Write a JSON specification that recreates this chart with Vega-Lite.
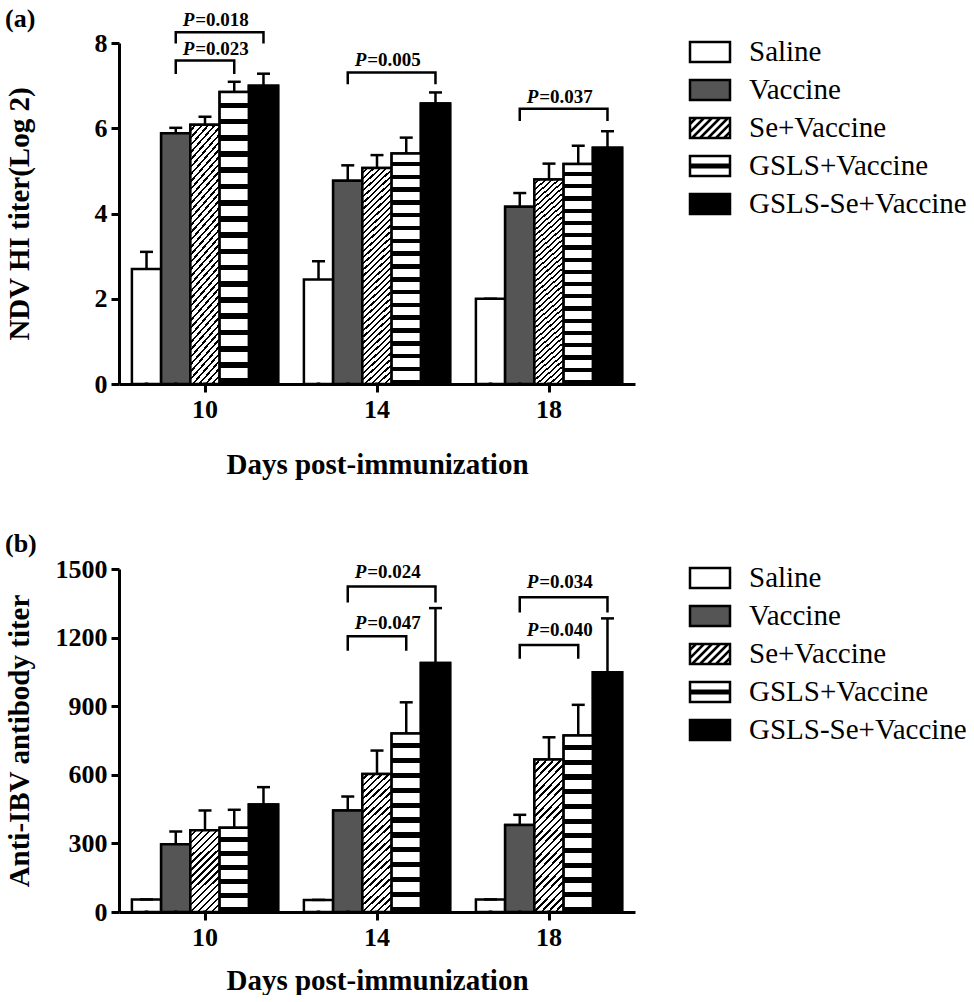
{
"$schema": "https://vega.github.io/schema/vega-lite/v6.json",
"background": "white",
"padding": {"left": 4, "top": 6, "right": 0, "bottom": 0},
"config": {
  "view": {"stroke": null},
  "font": "Liberation Serif",
  "axis": {"labelFont": "Liberation Serif", "labelFontWeight": "bold", "labelFontSize": 26, "labelColor": "black", "titleFont": "Liberation Serif", "titleFontWeight": "bold", "titleFontSize": 29, "titleColor": "black", "domainColor": "black", "domainWidth": 3, "tickColor": "black", "tickWidth": 3, "tickSize": 8, "grid": false},
  "title": {"font": "Liberation Serif", "fontWeight": "bold", "fontSize": 26, "color": "black", "anchor": "start", "frame": "bounds"},
  "legend": {"orient": "none", "title": null, "padding": 0, "rowPadding": 4, "symbolSize": 1260, "symbolStrokeWidth": 2.5, "symbolStrokeColor": "black", "symbolOpacity": 1, "labelFont": "Liberation Serif", "labelFontSize": 29, "labelColor": "black", "labelOffset": 20, "labelLimit": 400}
},
"datasets": {
  "a": [
    {"day": "10", "group": "Saline", "value": 2.7, "upper": 3.1},
    {"day": "10", "group": "Vaccine", "value": 5.88, "upper": 6.01},
    {"day": "10", "group": "Se+Vaccine", "value": 6.08, "upper": 6.27},
    {"day": "10", "group": "GSLS+Vaccine", "value": 6.85, "upper": 7.09},
    {"day": "10", "group": "GSLS-Se+Vaccine", "value": 7.0, "upper": 7.28},
    {"day": "14", "group": "Saline", "value": 2.45, "upper": 2.88},
    {"day": "14", "group": "Vaccine", "value": 4.77, "upper": 5.13},
    {"day": "14", "group": "Se+Vaccine", "value": 5.07, "upper": 5.37},
    {"day": "14", "group": "GSLS+Vaccine", "value": 5.41, "upper": 5.78},
    {"day": "14", "group": "GSLS-Se+Vaccine", "value": 6.58, "upper": 6.84},
    {"day": "18", "group": "Saline", "value": 2.0, "upper": 2.0},
    {"day": "18", "group": "Vaccine", "value": 4.16, "upper": 4.48},
    {"day": "18", "group": "Se+Vaccine", "value": 4.8, "upper": 5.17},
    {"day": "18", "group": "GSLS+Vaccine", "value": 5.16, "upper": 5.59},
    {"day": "18", "group": "GSLS-Se+Vaccine", "value": 5.54, "upper": 5.93}
  ],
  "b": [
    {"day": "10", "group": "Saline", "value": 55, "upper": 55},
    {"day": "10", "group": "Vaccine", "value": 296, "upper": 352},
    {"day": "10", "group": "Se+Vaccine", "value": 357, "upper": 444},
    {"day": "10", "group": "GSLS+Vaccine", "value": 368, "upper": 447},
    {"day": "10", "group": "GSLS-Se+Vaccine", "value": 470, "upper": 546},
    {"day": "14", "group": "Saline", "value": 53, "upper": 53},
    {"day": "14", "group": "Vaccine", "value": 444, "upper": 505},
    {"day": "14", "group": "Se+Vaccine", "value": 604, "upper": 706},
    {"day": "14", "group": "GSLS+Vaccine", "value": 781, "upper": 917},
    {"day": "14", "group": "GSLS-Se+Vaccine", "value": 1089, "upper": 1329},
    {"day": "18", "group": "Saline", "value": 55, "upper": 55},
    {"day": "18", "group": "Vaccine", "value": 381, "upper": 425},
    {"day": "18", "group": "Se+Vaccine", "value": 667, "upper": 764},
    {"day": "18", "group": "GSLS+Vaccine", "value": 772, "upper": 906},
    {"day": "18", "group": "GSLS-Se+Vaccine", "value": 1048, "upper": 1284}
  ],
  "ba": [
    {"id": "A1", "day": "10", "group": "Vaccine", "y": 7.99, "ord": 1},
    {"id": "A1", "day": "10", "group": "Vaccine", "y": 8.25, "ord": 2},
    {"id": "A1", "day": "10", "group": "GSLS-Se+Vaccine", "y": 8.25, "ord": 3},
    {"id": "A1", "day": "10", "group": "GSLS-Se+Vaccine", "y": 7.99, "ord": 4},
    {"id": "A2", "day": "10", "group": "Vaccine", "y": 7.27, "ord": 1},
    {"id": "A2", "day": "10", "group": "Vaccine", "y": 7.59, "ord": 2},
    {"id": "A2", "day": "10", "group": "GSLS+Vaccine", "y": 7.59, "ord": 3},
    {"id": "A2", "day": "10", "group": "GSLS+Vaccine", "y": 7.27, "ord": 4},
    {"id": "A3", "day": "14", "group": "Vaccine", "y": 7.03, "ord": 1},
    {"id": "A3", "day": "14", "group": "Vaccine", "y": 7.31, "ord": 2},
    {"id": "A3", "day": "14", "group": "GSLS-Se+Vaccine", "y": 7.31, "ord": 3},
    {"id": "A3", "day": "14", "group": "GSLS-Se+Vaccine", "y": 7.03, "ord": 4},
    {"id": "A4", "day": "18", "group": "Vaccine", "y": 6.17, "ord": 1},
    {"id": "A4", "day": "18", "group": "Vaccine", "y": 6.46, "ord": 2},
    {"id": "A4", "day": "18", "group": "GSLS-Se+Vaccine", "y": 6.46, "ord": 3},
    {"id": "A4", "day": "18", "group": "GSLS-Se+Vaccine", "y": 6.17, "ord": 4}
  ],
  "ta": [
    {"day": "10", "group": "Vaccine", "y": 8.39, "label": "=0.018"},
    {"day": "10", "group": "Vaccine", "y": 7.71, "label": "=0.023"},
    {"day": "14", "group": "Vaccine", "y": 7.45, "label": "=0.005"},
    {"day": "18", "group": "Vaccine", "y": 6.6, "label": "=0.037"}
  ],
  "bb": [
    {"id": "B1", "day": "14", "group": "Vaccine", "y": 1354, "ord": 1},
    {"id": "B1", "day": "14", "group": "Vaccine", "y": 1423, "ord": 2},
    {"id": "B1", "day": "14", "group": "GSLS-Se+Vaccine", "y": 1423, "ord": 3},
    {"id": "B1", "day": "14", "group": "GSLS-Se+Vaccine", "y": 1354, "ord": 4},
    {"id": "B2", "day": "14", "group": "Vaccine", "y": 1143, "ord": 1},
    {"id": "B2", "day": "14", "group": "Vaccine", "y": 1206, "ord": 2},
    {"id": "B2", "day": "14", "group": "GSLS+Vaccine", "y": 1206, "ord": 3},
    {"id": "B2", "day": "14", "group": "GSLS+Vaccine", "y": 1143, "ord": 4},
    {"id": "B3", "day": "18", "group": "Vaccine", "y": 1310, "ord": 1},
    {"id": "B3", "day": "18", "group": "Vaccine", "y": 1376, "ord": 2},
    {"id": "B3", "day": "18", "group": "GSLS-Se+Vaccine", "y": 1376, "ord": 3},
    {"id": "B3", "day": "18", "group": "GSLS-Se+Vaccine", "y": 1310, "ord": 4},
    {"id": "B4", "day": "18", "group": "Vaccine", "y": 1107, "ord": 1},
    {"id": "B4", "day": "18", "group": "Vaccine", "y": 1168, "ord": 2},
    {"id": "B4", "day": "18", "group": "GSLS+Vaccine", "y": 1168, "ord": 3},
    {"id": "B4", "day": "18", "group": "GSLS+Vaccine", "y": 1107, "ord": 4}
  ],
  "tb": [
    {"day": "14", "group": "Vaccine", "y": 1459, "label": "=0.024"},
    {"day": "14", "group": "Vaccine", "y": 1236, "label": "=0.047"},
    {"day": "18", "group": "Vaccine", "y": 1417, "label": "=0.034"},
    {"day": "18", "group": "Vaccine", "y": 1206, "label": "=0.040"}
  ]
},
"resolve": {"scale": {"shape": "independent", "fill": "independent", "stroke": "independent"}, "legend": {"fill": "independent", "shape": "independent", "stroke": "independent"}},
"spacing": 52,
"vconcat": [
{
  "width": 516, "height": 341,
  "title": {"text": "(a)", "offset": -21},
  "layer": [
    {"data": {"name": "a"}, "mark": {"type": "bar", "stroke": "black", "strokeWidth": 2.5, "fill": "#ffffff"},
     "encoding": {
       "x": {"field": "day", "type": "nominal", "scale": {"domain": ["10", "14", "18"], "paddingInner": 0.15, "paddingOuter": 0.075}, "axis": {"title": "Days post-immunization", "labelAngle": 0, "labelPadding": 4, "titleY": 89, "titleBaseline": "alphabetic"}},
       "xOffset": {"field": "group", "type": "nominal", "scale": {"domain": ["Saline", "Vaccine", "Se+Vaccine", "GSLS+Vaccine", "GSLS-Se+Vaccine"], "paddingInner": 0, "paddingOuter": 0}},
       "y": {"field": "value", "type": "quantitative", "scale": {"domain": [0, 8], "nice": false}, "axis": {"title": "NDV HI titer(Log 2)", "values": [0, 2, 4, 6, 8], "labelPadding": 4, "titleX": -91, "titleBaseline": "alphabetic"}}
     }},
    {"data": {"name": "a"}, "transform": [{"filter": "datum.group === 'Vaccine'"}],
     "mark": {"type": "bar", "stroke": "black", "strokeWidth": 2.5, "fill": "#555555"},
     "encoding": {"x": {"field": "day", "type": "nominal"}, "xOffset": {"field": "group", "type": "nominal"}, "y": {"field": "value", "type": "quantitative"}}},
    {"data": {"name": "a"}, "transform": [{"filter": "datum.group === 'GSLS-Se+Vaccine'"}],
     "mark": {"type": "bar", "stroke": "black", "strokeWidth": 2.5, "fill": "#000000"},
     "encoding": {"x": {"field": "day", "type": "nominal"}, "xOffset": {"field": "group", "type": "nominal"}, "y": {"field": "value", "type": "quantitative"}}},
    {"data": {"name": "a"}, "transform": [{"filter": "datum.group === 'Se+Vaccine'"}],
     "mark": {"type": "bar", "stroke": "black", "strokeWidth": 2.5, "fill": {"gradient": "linear", "x1": 0, "y1": 0, "x2": 0.1418, "y2": 1.1097, "stops": [
{"offset":0,"color":"#fff"},{"offset":0.01625,"color":"#fff"},{"offset":0.01625,"color":"#000"},{"offset":0.025,"color":"#000"},
{"offset":0.025,"color":"#fff"},{"offset":0.04125,"color":"#fff"},{"offset":0.04125,"color":"#000"},{"offset":0.05,"color":"#000"},
{"offset":0.05,"color":"#fff"},{"offset":0.06625,"color":"#fff"},{"offset":0.06625,"color":"#000"},{"offset":0.075,"color":"#000"},
{"offset":0.075,"color":"#fff"},{"offset":0.09125,"color":"#fff"},{"offset":0.09125,"color":"#000"},{"offset":0.1,"color":"#000"},
{"offset":0.1,"color":"#fff"},{"offset":0.11625,"color":"#fff"},{"offset":0.11625,"color":"#000"},{"offset":0.125,"color":"#000"},
{"offset":0.125,"color":"#fff"},{"offset":0.14125,"color":"#fff"},{"offset":0.14125,"color":"#000"},{"offset":0.15,"color":"#000"},
{"offset":0.15,"color":"#fff"},{"offset":0.16625,"color":"#fff"},{"offset":0.16625,"color":"#000"},{"offset":0.175,"color":"#000"},
{"offset":0.175,"color":"#fff"},{"offset":0.19125,"color":"#fff"},{"offset":0.19125,"color":"#000"},{"offset":0.2,"color":"#000"},
{"offset":0.2,"color":"#fff"},{"offset":0.21625,"color":"#fff"},{"offset":0.21625,"color":"#000"},{"offset":0.225,"color":"#000"},
{"offset":0.225,"color":"#fff"},{"offset":0.24125,"color":"#fff"},{"offset":0.24125,"color":"#000"},{"offset":0.25,"color":"#000"},
{"offset":0.25,"color":"#fff"},{"offset":0.26625,"color":"#fff"},{"offset":0.26625,"color":"#000"},{"offset":0.275,"color":"#000"},
{"offset":0.275,"color":"#fff"},{"offset":0.29125,"color":"#fff"},{"offset":0.29125,"color":"#000"},{"offset":0.3,"color":"#000"},
{"offset":0.3,"color":"#fff"},{"offset":0.31625,"color":"#fff"},{"offset":0.31625,"color":"#000"},{"offset":0.325,"color":"#000"},
{"offset":0.325,"color":"#fff"},{"offset":0.34125,"color":"#fff"},{"offset":0.34125,"color":"#000"},{"offset":0.35,"color":"#000"},
{"offset":0.35,"color":"#fff"},{"offset":0.36625,"color":"#fff"},{"offset":0.36625,"color":"#000"},{"offset":0.375,"color":"#000"},
{"offset":0.375,"color":"#fff"},{"offset":0.39125,"color":"#fff"},{"offset":0.39125,"color":"#000"},{"offset":0.4,"color":"#000"},
{"offset":0.4,"color":"#fff"},{"offset":0.41625,"color":"#fff"},{"offset":0.41625,"color":"#000"},{"offset":0.425,"color":"#000"},
{"offset":0.425,"color":"#fff"},{"offset":0.44125,"color":"#fff"},{"offset":0.44125,"color":"#000"},{"offset":0.45,"color":"#000"},
{"offset":0.45,"color":"#fff"},{"offset":0.46625,"color":"#fff"},{"offset":0.46625,"color":"#000"},{"offset":0.475,"color":"#000"},
{"offset":0.475,"color":"#fff"},{"offset":0.49125,"color":"#fff"},{"offset":0.49125,"color":"#000"},{"offset":0.5,"color":"#000"},
{"offset":0.5,"color":"#fff"},{"offset":0.51625,"color":"#fff"},{"offset":0.51625,"color":"#000"},{"offset":0.525,"color":"#000"},
{"offset":0.525,"color":"#fff"},{"offset":0.54125,"color":"#fff"},{"offset":0.54125,"color":"#000"},{"offset":0.55,"color":"#000"},
{"offset":0.55,"color":"#fff"},{"offset":0.56625,"color":"#fff"},{"offset":0.56625,"color":"#000"},{"offset":0.575,"color":"#000"},
{"offset":0.575,"color":"#fff"},{"offset":0.59125,"color":"#fff"},{"offset":0.59125,"color":"#000"},{"offset":0.6,"color":"#000"},
{"offset":0.6,"color":"#fff"},{"offset":0.61625,"color":"#fff"},{"offset":0.61625,"color":"#000"},{"offset":0.625,"color":"#000"},
{"offset":0.625,"color":"#fff"},{"offset":0.64125,"color":"#fff"},{"offset":0.64125,"color":"#000"},{"offset":0.65,"color":"#000"},
{"offset":0.65,"color":"#fff"},{"offset":0.66625,"color":"#fff"},{"offset":0.66625,"color":"#000"},{"offset":0.675,"color":"#000"},
{"offset":0.675,"color":"#fff"},{"offset":0.69125,"color":"#fff"},{"offset":0.69125,"color":"#000"},{"offset":0.7,"color":"#000"},
{"offset":0.7,"color":"#fff"},{"offset":0.71625,"color":"#fff"},{"offset":0.71625,"color":"#000"},{"offset":0.725,"color":"#000"},
{"offset":0.725,"color":"#fff"},{"offset":0.74125,"color":"#fff"},{"offset":0.74125,"color":"#000"},{"offset":0.75,"color":"#000"},
{"offset":0.75,"color":"#fff"},{"offset":0.76625,"color":"#fff"},{"offset":0.76625,"color":"#000"},{"offset":0.775,"color":"#000"},
{"offset":0.775,"color":"#fff"},{"offset":0.79125,"color":"#fff"},{"offset":0.79125,"color":"#000"},{"offset":0.8,"color":"#000"},
{"offset":0.8,"color":"#fff"},{"offset":0.81625,"color":"#fff"},{"offset":0.81625,"color":"#000"},{"offset":0.825,"color":"#000"},
{"offset":0.825,"color":"#fff"},{"offset":0.84125,"color":"#fff"},{"offset":0.84125,"color":"#000"},{"offset":0.85,"color":"#000"},
{"offset":0.85,"color":"#fff"},{"offset":0.86625,"color":"#fff"},{"offset":0.86625,"color":"#000"},{"offset":0.875,"color":"#000"},
{"offset":0.875,"color":"#fff"},{"offset":0.89125,"color":"#fff"},{"offset":0.89125,"color":"#000"},{"offset":0.9,"color":"#000"},
{"offset":0.9,"color":"#fff"},{"offset":0.91625,"color":"#fff"},{"offset":0.91625,"color":"#000"},{"offset":0.925,"color":"#000"},
{"offset":0.925,"color":"#fff"},{"offset":0.94125,"color":"#fff"},{"offset":0.94125,"color":"#000"},{"offset":0.95,"color":"#000"},
{"offset":0.95,"color":"#fff"},{"offset":0.96625,"color":"#fff"},{"offset":0.96625,"color":"#000"},{"offset":0.975,"color":"#000"},
{"offset":0.975,"color":"#fff"},{"offset":0.99125,"color":"#fff"},{"offset":0.99125,"color":"#000"},{"offset":1,"color":"#000"}
     ]}},
     "encoding": {"x": {"field": "day", "type": "nominal"}, "xOffset": {"field": "group", "type": "nominal"}, "y": {"field": "value", "type": "quantitative"}}},
    {"data": {"name": "a"}, "transform": [{"filter": "datum.group === 'GSLS+Vaccine'"}],
     "mark": {"type": "bar", "stroke": "black", "strokeWidth": 2.5, "fill": {"gradient": "linear", "x1": 0, "y1": 0, "x2": 0, "y2": 1, "stops": [
{"offset":0,"color":"#fff"},{"offset":0.0361,"color":"#fff"},{"offset":0.0361,"color":"#000"},{"offset":0.0556,"color":"#000"},
{"offset":0.0556,"color":"#fff"},{"offset":0.0917,"color":"#fff"},{"offset":0.0917,"color":"#000"},{"offset":0.1111,"color":"#000"},
{"offset":0.1111,"color":"#fff"},{"offset":0.1472,"color":"#fff"},{"offset":0.1472,"color":"#000"},{"offset":0.1667,"color":"#000"},
{"offset":0.1667,"color":"#fff"},{"offset":0.2028,"color":"#fff"},{"offset":0.2028,"color":"#000"},{"offset":0.2222,"color":"#000"},
{"offset":0.2222,"color":"#fff"},{"offset":0.2583,"color":"#fff"},{"offset":0.2583,"color":"#000"},{"offset":0.2778,"color":"#000"},
{"offset":0.2778,"color":"#fff"},{"offset":0.3139,"color":"#fff"},{"offset":0.3139,"color":"#000"},{"offset":0.3333,"color":"#000"},
{"offset":0.3333,"color":"#fff"},{"offset":0.3694,"color":"#fff"},{"offset":0.3694,"color":"#000"},{"offset":0.3889,"color":"#000"},
{"offset":0.3889,"color":"#fff"},{"offset":0.425,"color":"#fff"},{"offset":0.425,"color":"#000"},{"offset":0.4444,"color":"#000"},
{"offset":0.4444,"color":"#fff"},{"offset":0.4806,"color":"#fff"},{"offset":0.4806,"color":"#000"},{"offset":0.5,"color":"#000"},
{"offset":0.5,"color":"#fff"},{"offset":0.5361,"color":"#fff"},{"offset":0.5361,"color":"#000"},{"offset":0.5556,"color":"#000"},
{"offset":0.5556,"color":"#fff"},{"offset":0.5917,"color":"#fff"},{"offset":0.5917,"color":"#000"},{"offset":0.6111,"color":"#000"},
{"offset":0.6111,"color":"#fff"},{"offset":0.6472,"color":"#fff"},{"offset":0.6472,"color":"#000"},{"offset":0.6667,"color":"#000"},
{"offset":0.6667,"color":"#fff"},{"offset":0.7028,"color":"#fff"},{"offset":0.7028,"color":"#000"},{"offset":0.7222,"color":"#000"},
{"offset":0.7222,"color":"#fff"},{"offset":0.7583,"color":"#fff"},{"offset":0.7583,"color":"#000"},{"offset":0.7778,"color":"#000"},
{"offset":0.7778,"color":"#fff"},{"offset":0.8139,"color":"#fff"},{"offset":0.8139,"color":"#000"},{"offset":0.8333,"color":"#000"},
{"offset":0.8333,"color":"#fff"},{"offset":0.8694,"color":"#fff"},{"offset":0.8694,"color":"#000"},{"offset":0.8889,"color":"#000"},
{"offset":0.8889,"color":"#fff"},{"offset":0.925,"color":"#fff"},{"offset":0.925,"color":"#000"},{"offset":0.9444,"color":"#000"},
{"offset":0.9444,"color":"#fff"},{"offset":0.9806,"color":"#fff"},{"offset":0.9806,"color":"#000"},{"offset":1,"color":"#000"}
     ]}},
     "encoding": {"x": {"field": "day", "type": "nominal"}, "xOffset": {"field": "group", "type": "nominal"}, "y": {"field": "value", "type": "quantitative"}}},
    {"data": {"name": "a"}, "mark": {"type": "rule", "strokeWidth": 2.5, "color": "black"},
     "encoding": {"x": {"field": "day", "type": "nominal"}, "xOffset": {"field": "group", "type": "nominal"}, "y": {"field": "value", "type": "quantitative"}, "y2": {"field": "upper"}}},
    {"data": {"name": "a"}, "mark": {"type": "tick", "thickness": 2.5, "size": 13, "color": "black", "orient": "horizontal", "opacity": 1},
     "encoding": {"x": {"field": "day", "type": "nominal"}, "xOffset": {"field": "group", "type": "nominal"}, "y": {"field": "upper", "type": "quantitative"}}},
    {"data": {"name": "ba"}, "mark": {"type": "line", "strokeWidth": 2.5, "color": "black"},
     "encoding": {"x": {"field": "day", "type": "nominal"}, "xOffset": {"field": "group", "type": "nominal"}, "y": {"field": "y", "type": "quantitative"}, "detail": {"field": "id"}, "order": {"field": "ord"}}},
    {"data": {"name": "ta"}, "mark": {"type": "text", "align": "left", "baseline": "alphabetic", "dx": 7, "fontSize": 19, "fontWeight": "bold", "fontStyle": "italic", "color": "black"},
     "encoding": {"x": {"field": "day", "type": "nominal"}, "xOffset": {"field": "group", "type": "nominal"}, "y": {"field": "y", "type": "quantitative"}, "text": {"value": "P"}}},
    {"data": {"name": "ta"}, "mark": {"type": "text", "align": "left", "baseline": "alphabetic", "dx": 19.5, "fontSize": 19, "fontWeight": "bold", "color": "black"},
     "encoding": {"x": {"field": "day", "type": "nominal"}, "xOffset": {"field": "group", "type": "nominal"}, "y": {"field": "y", "type": "quantitative"}, "text": {"field": "label"}}},
    {"data": {"name": "a"}, "mark": {"type": "point", "filled": true, "size": 1, "opacity": 1, "strokeWidth": 2.5},
     "encoding": {
       "x": {"field": "day", "type": "nominal"},
       "xOffset": {"field": "group", "type": "nominal"},
       "y": {"datum": 0, "type": "quantitative"},
       "fill": {"field": "group", "type": "nominal", "scale": {"domain": ["Saline", "Vaccine", "Se+Vaccine", "GSLS+Vaccine", "GSLS-Se+Vaccine"], "range": ["#ffffff", "#555555", "#ffffff", "#ffffff", "#000000"]}, "legend": {"orient": "none", "legendX": 572, "legendY": -10}},
       "stroke": {"field": "group", "type": "nominal", "scale": {"domain": ["Saline", "Vaccine", "Se+Vaccine", "GSLS+Vaccine", "GSLS-Se+Vaccine"], "range": ["#000000", "#000000", "#000000", "#000000", "#000000"]}, "legend": {"orient": "none", "legendX": 572, "legendY": -10}},
       "shape": {"field": "group", "type": "nominal", "scale": {"domain": ["Saline", "Vaccine", "Se+Vaccine", "GSLS+Vaccine", "GSLS-Se+Vaccine"], "range": [
         "M-1.127,-0.563H1.127V0.563H-1.127Z",
         "M-1.127,-0.563H1.127V0.563H-1.127Z",
         "M-1.127,-0.563H1.127V0.563H-1.127ZM-1.127,-0.223L-0.787,-0.563M-1.127,0.227L-0.337,-0.563M-1.013,0.563L0.113,-0.563M-0.563,0.563L0.563,-0.563M-0.113,0.563L1.013,-0.563M0.337,0.563L1.127,-0.227M0.787,0.563L1.127,0.223",
         "M-1.127,-0.563H1.127V0.563H-1.127ZM-1.127,-0.07H1.127M-1.127,0.07H1.127",
         "M-1.127,-0.563H1.127V0.563H-1.127Z"]}, "legend": {"orient": "none", "legendX": 572, "legendY": -10}}
     }}
  ]
},
{
  "width": 516, "height": 343,
  "title": {"text": "(b)", "offset": -1},
  "layer": [
    {"data": {"name": "b"}, "mark": {"type": "bar", "stroke": "black", "strokeWidth": 2.5, "fill": "#ffffff"},
     "encoding": {
       "x": {"field": "day", "type": "nominal", "scale": {"domain": ["10", "14", "18"], "paddingInner": 0.15, "paddingOuter": 0.075}, "axis": {"title": "Days post-immunization", "labelAngle": 0, "labelPadding": 4, "titleY": 77, "titleBaseline": "alphabetic"}},
       "xOffset": {"field": "group", "type": "nominal", "scale": {"domain": ["Saline", "Vaccine", "Se+Vaccine", "GSLS+Vaccine", "GSLS-Se+Vaccine"], "paddingInner": 0, "paddingOuter": 0}},
       "y": {"field": "value", "type": "quantitative", "scale": {"domain": [0, 1500], "nice": false}, "axis": {"title": "Anti-IBV antibody titer", "values": [0, 300, 600, 900, 1200, 1500], "format": "d", "labelPadding": 4, "titleX": -91, "titleBaseline": "alphabetic"}}
     }},
    {"data": {"name": "b"}, "transform": [{"filter": "datum.group === 'Vaccine'"}],
     "mark": {"type": "bar", "stroke": "black", "strokeWidth": 2.5, "fill": "#555555"},
     "encoding": {"x": {"field": "day", "type": "nominal"}, "xOffset": {"field": "group", "type": "nominal"}, "y": {"field": "value", "type": "quantitative"}}},
    {"data": {"name": "b"}, "transform": [{"filter": "datum.group === 'GSLS-Se+Vaccine'"}],
     "mark": {"type": "bar", "stroke": "black", "strokeWidth": 2.5, "fill": "#000000"},
     "encoding": {"x": {"field": "day", "type": "nominal"}, "xOffset": {"field": "group", "type": "nominal"}, "y": {"field": "value", "type": "quantitative"}}},
    {"data": {"name": "b"}, "transform": [{"filter": "datum.group === 'Se+Vaccine' && datum.day !== '10'"}],
     "mark": {"type": "bar", "stroke": "black", "strokeWidth": 2.5, "fill": {"gradient": "linear", "x1": 0, "y1": 0, "x2": 0.2308, "y2": 1.1538, "stops": [
{"offset":0,"color":"#fff"},{"offset":0.026,"color":"#fff"},{"offset":0.026,"color":"#000"},{"offset":0.04,"color":"#000"},
{"offset":0.04,"color":"#fff"},{"offset":0.066,"color":"#fff"},{"offset":0.066,"color":"#000"},{"offset":0.08,"color":"#000"},
{"offset":0.08,"color":"#fff"},{"offset":0.106,"color":"#fff"},{"offset":0.106,"color":"#000"},{"offset":0.12,"color":"#000"},
{"offset":0.12,"color":"#fff"},{"offset":0.146,"color":"#fff"},{"offset":0.146,"color":"#000"},{"offset":0.16,"color":"#000"},
{"offset":0.16,"color":"#fff"},{"offset":0.186,"color":"#fff"},{"offset":0.186,"color":"#000"},{"offset":0.2,"color":"#000"},
{"offset":0.2,"color":"#fff"},{"offset":0.226,"color":"#fff"},{"offset":0.226,"color":"#000"},{"offset":0.24,"color":"#000"},
{"offset":0.24,"color":"#fff"},{"offset":0.266,"color":"#fff"},{"offset":0.266,"color":"#000"},{"offset":0.28,"color":"#000"},
{"offset":0.28,"color":"#fff"},{"offset":0.306,"color":"#fff"},{"offset":0.306,"color":"#000"},{"offset":0.32,"color":"#000"},
{"offset":0.32,"color":"#fff"},{"offset":0.346,"color":"#fff"},{"offset":0.346,"color":"#000"},{"offset":0.36,"color":"#000"},
{"offset":0.36,"color":"#fff"},{"offset":0.386,"color":"#fff"},{"offset":0.386,"color":"#000"},{"offset":0.4,"color":"#000"},
{"offset":0.4,"color":"#fff"},{"offset":0.426,"color":"#fff"},{"offset":0.426,"color":"#000"},{"offset":0.44,"color":"#000"},
{"offset":0.44,"color":"#fff"},{"offset":0.466,"color":"#fff"},{"offset":0.466,"color":"#000"},{"offset":0.48,"color":"#000"},
{"offset":0.48,"color":"#fff"},{"offset":0.506,"color":"#fff"},{"offset":0.506,"color":"#000"},{"offset":0.52,"color":"#000"},
{"offset":0.52,"color":"#fff"},{"offset":0.546,"color":"#fff"},{"offset":0.546,"color":"#000"},{"offset":0.56,"color":"#000"},
{"offset":0.56,"color":"#fff"},{"offset":0.586,"color":"#fff"},{"offset":0.586,"color":"#000"},{"offset":0.6,"color":"#000"},
{"offset":0.6,"color":"#fff"},{"offset":0.626,"color":"#fff"},{"offset":0.626,"color":"#000"},{"offset":0.64,"color":"#000"},
{"offset":0.64,"color":"#fff"},{"offset":0.666,"color":"#fff"},{"offset":0.666,"color":"#000"},{"offset":0.68,"color":"#000"},
{"offset":0.68,"color":"#fff"},{"offset":0.706,"color":"#fff"},{"offset":0.706,"color":"#000"},{"offset":0.72,"color":"#000"},
{"offset":0.72,"color":"#fff"},{"offset":0.746,"color":"#fff"},{"offset":0.746,"color":"#000"},{"offset":0.76,"color":"#000"},
{"offset":0.76,"color":"#fff"},{"offset":0.786,"color":"#fff"},{"offset":0.786,"color":"#000"},{"offset":0.8,"color":"#000"},
{"offset":0.8,"color":"#fff"},{"offset":0.826,"color":"#fff"},{"offset":0.826,"color":"#000"},{"offset":0.84,"color":"#000"},
{"offset":0.84,"color":"#fff"},{"offset":0.866,"color":"#fff"},{"offset":0.866,"color":"#000"},{"offset":0.88,"color":"#000"},
{"offset":0.88,"color":"#fff"},{"offset":0.906,"color":"#fff"},{"offset":0.906,"color":"#000"},{"offset":0.92,"color":"#000"},
{"offset":0.92,"color":"#fff"},{"offset":0.946,"color":"#fff"},{"offset":0.946,"color":"#000"},{"offset":0.96,"color":"#000"},
{"offset":0.96,"color":"#fff"},{"offset":0.986,"color":"#fff"},{"offset":0.986,"color":"#000"},{"offset":1,"color":"#000"}
     ]}},
     "encoding": {"x": {"field": "day", "type": "nominal"}, "xOffset": {"field": "group", "type": "nominal"}, "y": {"field": "value", "type": "quantitative"}}},
    {"data": {"name": "b"}, "transform": [{"filter": "datum.group === 'Se+Vaccine' && datum.day === '10'"}],
     "mark": {"type": "bar", "stroke": "black", "strokeWidth": 2.5, "fill": {"gradient": "linear", "x1": 0, "y1": 0, "x2": 0.4255, "y2": 1.2032, "stops": [
{"offset":0,"color":"#fff"},{"offset":0.0406,"color":"#fff"},{"offset":0.0406,"color":"#000"},{"offset":0.0625,"color":"#000"},
{"offset":0.0625,"color":"#fff"},{"offset":0.1031,"color":"#fff"},{"offset":0.1031,"color":"#000"},{"offset":0.125,"color":"#000"},
{"offset":0.125,"color":"#fff"},{"offset":0.1656,"color":"#fff"},{"offset":0.1656,"color":"#000"},{"offset":0.1875,"color":"#000"},
{"offset":0.1875,"color":"#fff"},{"offset":0.2281,"color":"#fff"},{"offset":0.2281,"color":"#000"},{"offset":0.25,"color":"#000"},
{"offset":0.25,"color":"#fff"},{"offset":0.2906,"color":"#fff"},{"offset":0.2906,"color":"#000"},{"offset":0.3125,"color":"#000"},
{"offset":0.3125,"color":"#fff"},{"offset":0.3531,"color":"#fff"},{"offset":0.3531,"color":"#000"},{"offset":0.375,"color":"#000"},
{"offset":0.375,"color":"#fff"},{"offset":0.4156,"color":"#fff"},{"offset":0.4156,"color":"#000"},{"offset":0.4375,"color":"#000"},
{"offset":0.4375,"color":"#fff"},{"offset":0.4781,"color":"#fff"},{"offset":0.4781,"color":"#000"},{"offset":0.5,"color":"#000"},
{"offset":0.5,"color":"#fff"},{"offset":0.5406,"color":"#fff"},{"offset":0.5406,"color":"#000"},{"offset":0.5625,"color":"#000"},
{"offset":0.5625,"color":"#fff"},{"offset":0.6031,"color":"#fff"},{"offset":0.6031,"color":"#000"},{"offset":0.625,"color":"#000"},
{"offset":0.625,"color":"#fff"},{"offset":0.6656,"color":"#fff"},{"offset":0.6656,"color":"#000"},{"offset":0.6875,"color":"#000"},
{"offset":0.6875,"color":"#fff"},{"offset":0.7281,"color":"#fff"},{"offset":0.7281,"color":"#000"},{"offset":0.75,"color":"#000"},
{"offset":0.75,"color":"#fff"},{"offset":0.7906,"color":"#fff"},{"offset":0.7906,"color":"#000"},{"offset":0.8125,"color":"#000"},
{"offset":0.8125,"color":"#fff"},{"offset":0.8531,"color":"#fff"},{"offset":0.8531,"color":"#000"},{"offset":0.875,"color":"#000"},
{"offset":0.875,"color":"#fff"},{"offset":0.9156,"color":"#fff"},{"offset":0.9156,"color":"#000"},{"offset":0.9375,"color":"#000"},
{"offset":0.9375,"color":"#fff"},{"offset":0.9781,"color":"#fff"},{"offset":0.9781,"color":"#000"},{"offset":1,"color":"#000"}
     ]}},
     "encoding": {"x": {"field": "day", "type": "nominal"}, "xOffset": {"field": "group", "type": "nominal"}, "y": {"field": "value", "type": "quantitative"}}},
    {"data": {"name": "b"}, "transform": [{"filter": "datum.group === 'GSLS+Vaccine' && datum.day !== '10'"}],
     "mark": {"type": "bar", "stroke": "black", "strokeWidth": 2.5, "fill": {"gradient": "linear", "x1": 0, "y1": 0, "x2": 0, "y2": 1, "stops": [
{"offset":0,"color":"#fff"},{"offset":0.0542,"color":"#fff"},{"offset":0.0542,"color":"#000"},{"offset":0.0833,"color":"#000"},
{"offset":0.0833,"color":"#fff"},{"offset":0.1375,"color":"#fff"},{"offset":0.1375,"color":"#000"},{"offset":0.1667,"color":"#000"},
{"offset":0.1667,"color":"#fff"},{"offset":0.2208,"color":"#fff"},{"offset":0.2208,"color":"#000"},{"offset":0.25,"color":"#000"},
{"offset":0.25,"color":"#fff"},{"offset":0.3042,"color":"#fff"},{"offset":0.3042,"color":"#000"},{"offset":0.3333,"color":"#000"},
{"offset":0.3333,"color":"#fff"},{"offset":0.3875,"color":"#fff"},{"offset":0.3875,"color":"#000"},{"offset":0.4167,"color":"#000"},
{"offset":0.4167,"color":"#fff"},{"offset":0.4708,"color":"#fff"},{"offset":0.4708,"color":"#000"},{"offset":0.5,"color":"#000"},
{"offset":0.5,"color":"#fff"},{"offset":0.5542,"color":"#fff"},{"offset":0.5542,"color":"#000"},{"offset":0.5833,"color":"#000"},
{"offset":0.5833,"color":"#fff"},{"offset":0.6375,"color":"#fff"},{"offset":0.6375,"color":"#000"},{"offset":0.6667,"color":"#000"},
{"offset":0.6667,"color":"#fff"},{"offset":0.7208,"color":"#fff"},{"offset":0.7208,"color":"#000"},{"offset":0.75,"color":"#000"},
{"offset":0.75,"color":"#fff"},{"offset":0.8042,"color":"#fff"},{"offset":0.8042,"color":"#000"},{"offset":0.8333,"color":"#000"},
{"offset":0.8333,"color":"#fff"},{"offset":0.8875,"color":"#fff"},{"offset":0.8875,"color":"#000"},{"offset":0.9167,"color":"#000"},
{"offset":0.9167,"color":"#fff"},{"offset":0.9708,"color":"#fff"},{"offset":0.9708,"color":"#000"},{"offset":1,"color":"#000"}
     ]}},
     "encoding": {"x": {"field": "day", "type": "nominal"}, "xOffset": {"field": "group", "type": "nominal"}, "y": {"field": "value", "type": "quantitative"}}},
    {"data": {"name": "b"}, "transform": [{"filter": "datum.group === 'GSLS+Vaccine' && datum.day === '10'"}],
     "mark": {"type": "bar", "stroke": "black", "strokeWidth": 2.5, "fill": {"gradient": "linear", "x1": 0, "y1": 0, "x2": 0, "y2": 1, "stops": [
{"offset":0,"color":"#fff"},{"offset":0.1083,"color":"#fff"},{"offset":0.1083,"color":"#000"},{"offset":0.1667,"color":"#000"},
{"offset":0.1667,"color":"#fff"},{"offset":0.275,"color":"#fff"},{"offset":0.275,"color":"#000"},{"offset":0.3333,"color":"#000"},
{"offset":0.3333,"color":"#fff"},{"offset":0.4417,"color":"#fff"},{"offset":0.4417,"color":"#000"},{"offset":0.5,"color":"#000"},
{"offset":0.5,"color":"#fff"},{"offset":0.6083,"color":"#fff"},{"offset":0.6083,"color":"#000"},{"offset":0.6667,"color":"#000"},
{"offset":0.6667,"color":"#fff"},{"offset":0.775,"color":"#fff"},{"offset":0.775,"color":"#000"},{"offset":0.8333,"color":"#000"},
{"offset":0.8333,"color":"#fff"},{"offset":0.9417,"color":"#fff"},{"offset":0.9417,"color":"#000"},{"offset":1,"color":"#000"}
     ]}},
     "encoding": {"x": {"field": "day", "type": "nominal"}, "xOffset": {"field": "group", "type": "nominal"}, "y": {"field": "value", "type": "quantitative"}}},
    {"data": {"name": "b"}, "mark": {"type": "rule", "strokeWidth": 2.5, "color": "black"},
     "encoding": {"x": {"field": "day", "type": "nominal"}, "xOffset": {"field": "group", "type": "nominal"}, "y": {"field": "value", "type": "quantitative"}, "y2": {"field": "upper"}}},
    {"data": {"name": "b"}, "mark": {"type": "tick", "thickness": 2.5, "size": 13, "color": "black", "orient": "horizontal", "opacity": 1},
     "encoding": {"x": {"field": "day", "type": "nominal"}, "xOffset": {"field": "group", "type": "nominal"}, "y": {"field": "upper", "type": "quantitative"}}},
    {"data": {"name": "bb"}, "mark": {"type": "line", "strokeWidth": 2.5, "color": "black"},
     "encoding": {"x": {"field": "day", "type": "nominal"}, "xOffset": {"field": "group", "type": "nominal"}, "y": {"field": "y", "type": "quantitative"}, "detail": {"field": "id"}, "order": {"field": "ord"}}},
    {"data": {"name": "tb"}, "mark": {"type": "text", "align": "left", "baseline": "alphabetic", "dx": 7, "fontSize": 19, "fontWeight": "bold", "fontStyle": "italic", "color": "black"},
     "encoding": {"x": {"field": "day", "type": "nominal"}, "xOffset": {"field": "group", "type": "nominal"}, "y": {"field": "y", "type": "quantitative"}, "text": {"value": "P"}}},
    {"data": {"name": "tb"}, "mark": {"type": "text", "align": "left", "baseline": "alphabetic", "dx": 19.5, "fontSize": 19, "fontWeight": "bold", "color": "black"},
     "encoding": {"x": {"field": "day", "type": "nominal"}, "xOffset": {"field": "group", "type": "nominal"}, "y": {"field": "y", "type": "quantitative"}, "text": {"field": "label"}}},
    {"data": {"name": "b"}, "mark": {"type": "point", "filled": true, "size": 1, "opacity": 1, "strokeWidth": 2.5},
     "encoding": {
       "x": {"field": "day", "type": "nominal"},
       "xOffset": {"field": "group", "type": "nominal"},
       "y": {"datum": 0, "type": "quantitative"},
       "fill": {"field": "group", "type": "nominal", "scale": {"domain": ["Saline", "Vaccine", "Se+Vaccine", "GSLS+Vaccine", "GSLS-Se+Vaccine"], "range": ["#ffffff", "#555555", "#ffffff", "#ffffff", "#000000"]}, "legend": {"orient": "none", "legendX": 572, "legendY": -10}},
       "stroke": {"field": "group", "type": "nominal", "scale": {"domain": ["Saline", "Vaccine", "Se+Vaccine", "GSLS+Vaccine", "GSLS-Se+Vaccine"], "range": ["#000000", "#000000", "#000000", "#000000", "#000000"]}, "legend": {"orient": "none", "legendX": 572, "legendY": -10}},
       "shape": {"field": "group", "type": "nominal", "scale": {"domain": ["Saline", "Vaccine", "Se+Vaccine", "GSLS+Vaccine", "GSLS-Se+Vaccine"], "range": [
         "M-1.127,-0.563H1.127V0.563H-1.127Z",
         "M-1.127,-0.563H1.127V0.563H-1.127Z",
         "M-1.127,-0.563H1.127V0.563H-1.127ZM-1.127,-0.223L-0.787,-0.563M-1.127,0.227L-0.337,-0.563M-1.013,0.563L0.113,-0.563M-0.563,0.563L0.563,-0.563M-0.113,0.563L1.013,-0.563M0.337,0.563L1.127,-0.227M0.787,0.563L1.127,0.223",
         "M-1.127,-0.563H1.127V0.563H-1.127ZM-1.127,-0.07H1.127M-1.127,0.07H1.127",
         "M-1.127,-0.563H1.127V0.563H-1.127Z"]}, "legend": {"orient": "none", "legendX": 572, "legendY": -10}}
     }}
  ]
}
]
}
